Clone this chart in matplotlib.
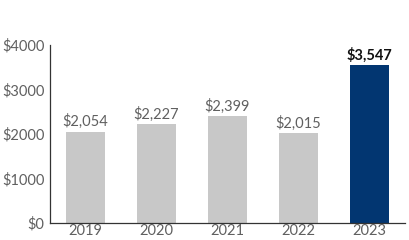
import matplotlib
matplotlib.use('Agg')
import matplotlib.pyplot as plt

plt.rcParams['font.family'] = ['Lato', 'DejaVu Sans']

years = ['2019', '2020', '2021', '2022', '2023']
values = [2054, 2227, 2399, 2015, 3547]
labels = ['$2,054', '$2,227', '$2,399', '$2,015', '$3,547']
yticks = [0, 1000, 2000, 3000, 4000]
ytick_labels = ['$0', '$1000', '$2000', '$3000', '$4000']

GRAY = '#c8c8c8'
NAVY = '#023671'
TEXT = '#606060'

fig = plt.figure(figsize=(4.09, 2.4), dpi=100)
ax = fig.add_axes([50 / 409, 17 / 240, 355 / 409, 178 / 240])

colors = [GRAY] * (len(values) - 1) + [NAVY]
x = list(range(len(years)))
ax.bar(x, values, width=0.55, color=colors)

for i, (v, lab) in enumerate(zip(values, labels)):
    last = i == len(values) - 1
    ax.text(i, v + 50, lab, ha='center', va='bottom', fontsize=10.5,
            color='#111111' if last else TEXT,
            fontweight='bold' if last else 'normal')

ax.set_xlim(-0.5, 4.5)
ax.set_ylim(0, 4000)
ax.set_xticks(x)
ax.set_xticklabels(years)
ax.set_yticks(yticks)
ax.set_yticklabels(ytick_labels)
ax.tick_params(axis='both', length=0, labelsize=10.5, labelcolor=TEXT)
ax.tick_params(axis='y', pad=4)
ax.tick_params(axis='x', pad=1)

for s in ['top', 'right']:
    ax.spines[s].set_visible(False)
for s in ['left', 'bottom']:
    ax.spines[s].set_color('#333333')
    ax.spines[s].set_linewidth(0.9)

fig.savefig('out.png', dpi=100)
